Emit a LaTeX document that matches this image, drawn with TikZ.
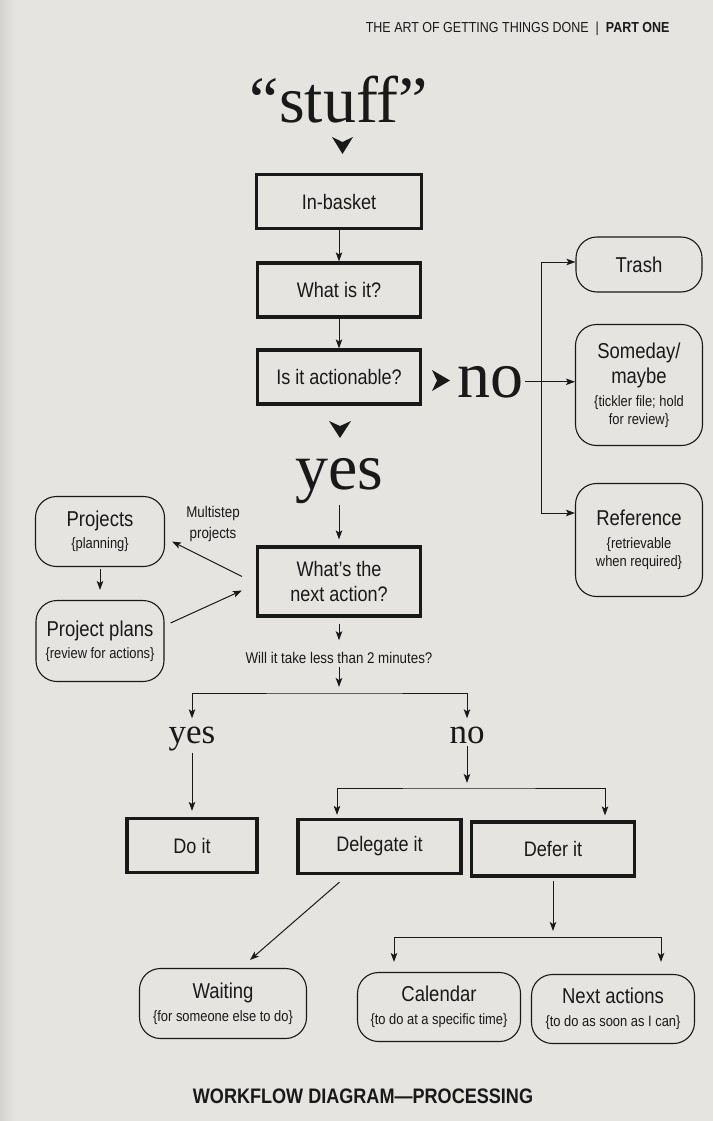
\documentclass[tikz,border=0pt]{standalone}
\usepackage{fontspec}
\usepackage{tikz}
\usetikzlibrary{arrows.meta}
\newfontfamily\gtdsans[FakeStretch=0.86]{Liberation Sans}
\newfontfamily\gtdserif{Liberation Serif}
\definecolor{ink}{RGB}{25,25,25}
\definecolor{paper}{RGB}{229,228,224}
\newcommand\ttl[1]{{\fontsize{21.5}{25}\selectfont #1}}

\begin{document}
\begin{tikzpicture}[x=1pt, y=-1pt, color=ink,
	actbox/.style={draw, line width=3.2pt, minimum width=163pt, minimum height=54pt,
		inner sep=0pt, align=center, font=\gtdsans\fontsize{21}{25}\selectfont},
	binbox/.style={draw, line width=1.1pt, rounded corners=21pt, align=center,
		inner sep=0pt, font=\gtdsans\fontsize{15}{25}\selectfont},
	flow/.style={line width=1pt, -{Stealth[length=9pt,width=6.5pt,inset=2pt]}},
	twoway/.style={line width=1pt, {Stealth[length=9pt,width=6.5pt,inset=2pt]}-{Stealth[length=9pt,width=6.5pt,inset=2pt]}},
	bigword/.style={anchor=base, inner sep=2pt, font=\gtdserif\fontsize{66}{70}\selectfont},
	smallword/.style={anchor=base, inner sep=2pt, font=\gtdserif\fontsize{35}{40}\selectfont},
	note/.style={align=center, font=\gtdsans\fontsize{15.5}{21}\selectfont}]
	% page
	\fill[paper] (0,0) rectangle (713,1121);
	\shade[left color=paper!92!black, right color=paper] (0,0) rectangle (14,1121);
	\useasboundingbox (0,0) rectangle (713,1121);
	\node [anchor=base east, font=\gtdsans\fontsize{14.5}{17}\selectfont] (head) at (673,33)
		{THE ART OF GETTING THINGS DONE\hspace{7pt}|\hspace{7pt}\textbf{PART ONE}};

	% collect and decide
	\node [bigword] (stuff) at (339,123) {“stuff”};
	\node [actbox, minimum width=165pt] (inbasket) at (339,201.5) {In-basket};
	\node [actbox] (whatis) at (339,290) {What is it?};
	\node [actbox] (actionable) at (339,377) {Is it actionable?};
	\node [bigword] (no) at (490,397) {no};
	\node [bigword] (yes) at (339,489) {yes};
	\node [actbox, minimum height=69pt] (nextaction) at (339,581.5) {What’s the\\next action?};

	% not actionable
	\node [binbox, minimum width=126pt, minimum height=55pt] (trash) at (639,264.5) {\ttl{Trash}};
	\node [binbox, minimum width=127pt, minimum height=121pt] (someday) at (639,385)
		{\ttl{Someday/}\\\ttl{maybe}\\[-2pt]\{tickler file; hold\\[-7pt]for review\}};
	\node [binbox, minimum width=127pt, minimum height=113pt] (reference) at (639,540)
		{\ttl{Reference}\\[-2pt]\{retrievable\\[-7pt]when required\}};

	% projects
	\node [binbox, minimum width=129pt, minimum height=70pt] (projects) at (100,531.5)
		{\ttl{Projects}\\[-3pt]\{planning\}};
	\node [binbox, minimum width=128pt, minimum height=81pt] (plans) at (100,641)
		{\ttl{Project plans}\\[-3pt]\{review for actions\}};
	\node [note] (multistep) at (213,524) {Multistep\\projects};

	% two minutes
	\node [note, anchor=base] (willit) at (339,663) {Will it take less than 2 minutes?};
	\node [smallword] (yes2) at (192,743) {yes};
	\node [smallword] (no2) at (467,743) {no};
	\node [actbox, minimum width=130pt] (doit) at (192,845.5) {Do it};
	\node [actbox] (delegate) at (379.5,846.5) {Delegate it};
	\node [actbox] (defer) at (553,849) {Defer it};

	% outcomes
	\node [binbox, minimum width=167pt, minimum height=70pt] (waiting) at (223,1003.5)
		{\ttl{Waiting}\\[-2pt]\{for someone else to do\}};
	\node [binbox, minimum width=163pt, minimum height=69pt] (calendar) at (439,1007)
		{\ttl{Calendar}\\[-2pt]\{to do at a specific time\}};
	\node [binbox, minimum width=163pt, minimum height=69pt] (nextacts) at (613,1009)
		{\ttl{Next actions}\\[-2pt]\{to do as soon as I can\}};
	\node [anchor=base, font=\gtdsans\bfseries\fontsize{21}{25}\selectfont] (caption) at (363,1103)
		{WORKFLOW DIAGRAM—PROCESSING};

	% big wedges
	\fill (332,137) -- (342.5,142) -- (353,137) -- (342.5,154) -- cycle;
	\fill (432,370) -- (437,380.5) -- (432,391) -- (450,380.5) -- cycle;
	\fill (329,421) -- (340,426) -- (351,421) -- (340,438) -- cycle;

	\draw [flow] (inbasket) -- (whatis);
	\draw [flow] (whatis) -- (actionable);
	\draw [flow] (no) -- (no -| someday.west);
	\coordinate (fork) at (541,262);
	\coordinate (forkend) at (541,513);
	\draw [flow] (forkend) -- (fork) -- (fork -| trash.west);
	\draw [flow] (forkend) -- (forkend -| reference.west);

	\draw [flow, shorten >=6pt] (yes) -- (nextaction);
	\draw [flow] ([xshift=-14pt,yshift=5pt]nextaction.west) -- ([xshift=7pt,yshift=-10pt]projects.east);
	\draw [flow] ([xshift=6pt,yshift=18pt]plans.east) -- ([xshift=-14pt,yshift=-9pt]nextaction.west);
	\draw [flow, shorten <=2pt, shorten >=10pt] (projects) -- (plans);

	\draw [flow, shorten <=6pt, shorten >=8pt] (nextaction) -- (willit);
	\coordinate (branch1) at (339,693);
	\draw [flow, shorten >=6pt] (willit) -- (branch1);
	\draw [twoway, shorten <=6pt, shorten >=6pt] (yes2) |- (branch1) -| (no2);
	\draw [flow, shorten >=6pt] (yes2) -- (doit);
	\coordinate (branch2) at (467,788);
	\draw [flow, shorten >=5pt] (no2) -- (branch2);
	\draw [twoway, shorten <=3pt, shorten >=5pt] ([xshift=-42.5pt]delegate.north) |- (branch2)
		-| ([xshift=52pt]defer.north);

	\draw [flow] ([xshift=-40pt,yshift=-7pt]delegate.south) -- ([xshift=27pt,yshift=8pt]waiting.north);
	\coordinate (branch3) at (553,937);
	\draw [flow, shorten <=3pt, shorten >=6pt] (defer) -- (branch3);
	\draw [twoway, shorten <=10pt, shorten >=12pt] ([xshift=-45pt]calendar.north) |- (branch3)
		-| ([xshift=48pt]nextacts.north);
\end{tikzpicture}
\end{document}
